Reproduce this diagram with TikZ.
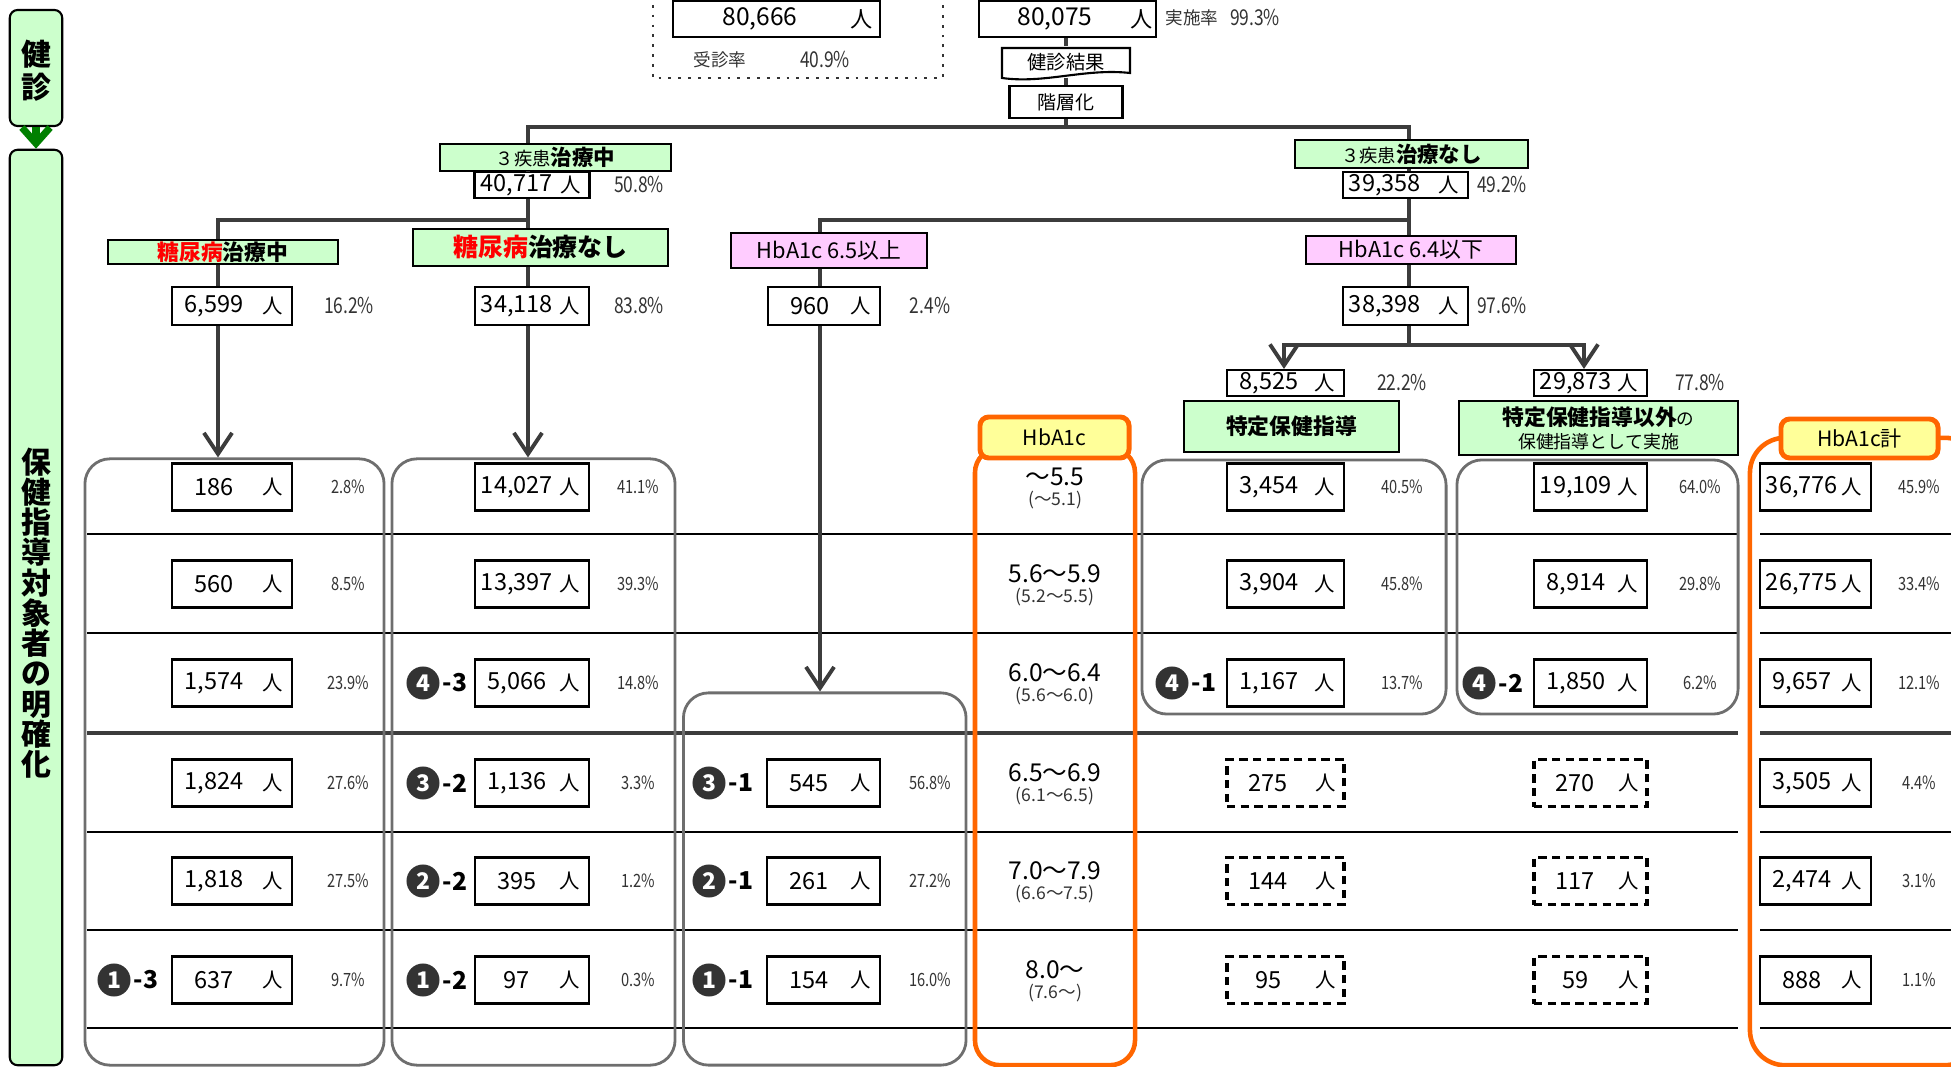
\documentclass[tikz,border=0pt]{standalone}
\usepackage{fontspec}
\setmainfont{Noto Sans CJK JP}
\newfontfamily\narrowfont[FakeStretch=0.8]{Noto Sans CJK JP}
\usetikzlibrary{positioning,arrows.meta}
\definecolor{kgreen}{HTML}{CCFFCC}
\definecolor{kdgreen}{HTML}{008000}
\definecolor{kpink}{HTML}{FFCCFF}
\definecolor{kyellow}{HTML}{FFFF99}
\definecolor{korange}{HTML}{FF6600}
\definecolor{kline}{HTML}{3C3C3C}
\definecolor{kgray}{HTML}{6E6E6E}
\definecolor{kpct}{HTML}{333333}
\newcommand\fsz[1]{\fontsize{#1}{#1}\selectfont}
\newcommand\ninzu[5]{%
  \node[#5] (#1) at (#2,#3) {};
  \node[numtxt] (#1n) at ([xshift=0.43cm]#1.west) {#4};
  \node[hito] (#1h) at ([xshift=-0.2cm]#1.east) {人};}
\newcommand\maru[5]{%
  \node[marunode] (#1) at (#2,#3) {#4};
  \node[marusub,right=0.5pt of #1] (#1s) {-#5};}

\begin{document}
\begin{tikzpicture}
  [x=0.01cm,y=-0.01cm,
   tree/.style={draw=kline,line width=1.1pt},
   arr/.style={tree,-{Straight Barb[length=6pt,width=8pt]}},
   garr/.style={draw=kdgreen,line width=2pt,-{Straight Barb[length=4.5pt,width=8pt]}},
   grp/.style={draw=kgray,line width=0.8pt,rounded corners=0.25cm,inner sep=0pt},
   ocol/.style={draw=korange,line width=1.3pt,inner sep=0pt},
   numbox/.style={draw,line width=0.6pt,fill=white,minimum width=1.15cm,minimum height=0.47cm,inner sep=0pt},
   dashbox/.style={numbox,dash pattern=on 2.4pt off 1.5pt,line width=0.9pt},
   topbox/.style={numbox,minimum height=0.26cm},
   midbox/.style={numbox,minimum height=0.38cm},
   numtxt/.style={inner sep=0pt,font=\fsz{6.7}},
   hito/.style={inner sep=0pt,font=\fsz{5.8}},
   pct/.style={inner sep=0pt,text=kpct,font=\narrowfont\fsz{5.2}},
   bigpct/.style={inner sep=0pt,text=kpct,font=\narrowfont\fsz{6.2}},
   small/.style={inner sep=0pt,text=kpct,font=\fsz{5}},
   gbox/.style={draw,line width=0.6pt,fill=kgreen,inner sep=0pt},
   pbox/.style={gbox,fill=kpink,font=\fsz{6.2}},
   hlab/.style={draw=korange,line width=1.4pt,fill=kyellow,rounded corners=2.5pt,inner sep=0pt,font=\fsz{6}},
   rng/.style={inner sep=0pt,font=\fsz{7}},
   rngsub/.style={inner sep=0pt,text=kpct,font=\fsz{5}},
   marunode/.style={circle,fill=black!80,text=white,inner sep=0pt,minimum size=0.33cm,font=\bfseries\fsz{6.5}},
   marusub/.style={inner sep=0pt,font=\bfseries\fsz{7}},
   side/.style={draw,line width=0.6pt,fill=kgreen,rounded corners=0.08cm,minimum width=0.525cm,inner sep=0pt},
   sidetxt/.style={inner sep=0pt,align=center}]
  \useasboundingbox (0,0) rectangle (1951,1067);

  % side bar
  \node[side,minimum height=1.16cm] (kenshin) at (36,68) {};
  \node[sidetxt,font=\bfseries\fontsize{8.5}{9.4}\selectfont] (kenshintxt) at (36,71) {健\\診};
  \node[side,minimum height=9.15cm] (hoken) at (36,607.5) {};
  \node[sidetxt,font=\bfseries\fontsize{8.5}{8.6}\selectfont] (hokentxt) at (36,613)
    {保\\健\\指\\導\\対\\象\\者\\の\\明\\確\\化};
  \draw[garr] (kenshin) -- (hoken);

  % table lines
  \foreach \y in {534,633,832,930,1028}
    \draw[line width=0.5pt] (87,\y) -- (1738,\y) (1760,\y) -- (1951,\y);
  \draw[kline,line width=1.1pt] (87,733) -- (1738,733) (1760,733) -- (1951,733);

  % groups
  \node[grp,minimum width=2.99cm,minimum height=6.06cm] (g1) at (234.5,762) {};
  \node[grp,minimum width=2.83cm,minimum height=6.06cm] (g2) at (533.5,762) {};
  \node[grp,minimum width=2.825cm,minimum height=3.72cm] (g3) at (824.75,879) {};
  \node[grp,minimum width=3.04cm,minimum height=2.54cm] (g4) at (1294,587) {};
  \node[grp,minimum width=2.81cm,minimum height=2.54cm] (g5) at (1597.5,587) {};
  \node[ocol,rounded corners=0.25cm,minimum width=1.6cm,minimum height=6.17cm] (ca) at (1055,756.5) {};
  \node[ocol,rounded corners=0.35cm,minimum width=2.3cm,minimum height=6.27cm] (cb) at (1865,751.5) {};
  \node[hlab,minimum width=1.49cm,minimum height=0.41cm] (la) at (1054.5,437.5) {HbA1c};
  \node[hlab,minimum width=1.57cm,minimum height=0.39cm] (lb) at (1859.5,438.5) {HbA1c計};

  % top
  \draw[kpct,dotted,line width=0.8pt] (653,-5) rectangle (943,78);
  \node[numbox,minimum width=2.07cm,minimum height=0.36cm] (v1) at (776.5,19) {};
  \node[numtxt,font=\fsz{7}] (v1n) at (760,19) {80,666};
  \node[hito,font=\fsz{6.3}] (v1h) at (862,19) {人};
  \node[small] (v1l) at (720,60) {受診率};
  \node[bigpct] (v1p) at (825,60) {40.9\%};
  \node[numbox,minimum width=1.77cm,minimum height=0.36cm] (v2) at (1067.5,19) {};
  \node[numtxt,font=\fsz{7}] (v2n) at (1055,19) {80,075};
  \node[hito,font=\fsz{6.3}] (v2h) at (1142,19) {人};
  \node[small] (v2l) at (1192,18) {実施率};
  \node[bigpct] (v2p) at (1255,18) {99.3\%};
  \draw[line width=0.6pt,fill=white] (1002,48) -- (1130,48) -- (1130,73)
    .. controls (1085,68) and (1045,84) .. (1002,78) -- cycle;
  \node[inner sep=0pt,minimum width=1.28cm,minimum height=0.3cm,font=\fsz{5.5}] (kekka) at (1066,62) {健診結果};
  \node[draw,line width=0.6pt,minimum width=1.13cm,minimum height=0.32cm,inner sep=0pt,font=\fsz{5.4}] (kaiso) at (1066,102) {階層化};

  % tree
  \node[gbox,minimum width=2.31cm,minimum height=0.27cm] (ch1) at (555.5,157.5)
    {{\fsz{5.2}３疾患}{\bfseries\fsz{6.1}治療中}};
  \node[gbox,minimum width=2.33cm,minimum height=0.28cm] (ch2) at (1411.5,154)
    {{\fsz{5.2}３疾患}{\bfseries\fsz{6.1}治療なし}};
  \ninzu{n1}{532}{185}{40,717}{topbox}
  \node[bigpct] (n1p) at (639,185) {50.8\%};
  \ninzu{n2}{1405.5}{185}{39,358}{topbox,minimum width=1.25cm}
  \node[bigpct] (n2p) at (1502,185) {49.2\%};
  \node[gbox,minimum width=2.3cm,minimum height=0.24cm,font=\bfseries\fsz{6.2}] (dm1) at (223,252)
    {\textcolor{red}{糖尿病}治療中};
  \node[gbox,minimum width=2.55cm,minimum height=0.37cm,font=\bfseries\fsz{7.1}] (dm2) at (540.5,247.5)
    {\textcolor{red}{糖尿病}治療なし};
  \node[pbox,minimum width=1.96cm,minimum height=0.35cm] (hb1) at (829,250.5) {HbA1c 6.5以上};
  \node[pbox,minimum width=2.1cm,minimum height=0.28cm] (hb2) at (1411,250) {HbA1c 6.4以下};
  \ninzu{m1}{232}{306}{6,599}{midbox,minimum width=1.2cm}
  \node[bigpct] (m1p) at (349,306) {16.2\%};
  \ninzu{m2}{532}{306}{34,118}{midbox,minimum width=1.14cm}
  \node[bigpct] (m2p) at (639,306) {83.8\%};
  \ninzu{m3}{824}{306}{960}{midbox,minimum width=1.12cm}
  \node[bigpct] (m3p) at (930,306) {2.4\%};
  \ninzu{m4}{1405.5}{306}{38,398}{midbox,minimum width=1.25cm}
  \node[bigpct] (m4p) at (1502,306) {97.6\%};
  \ninzu{s1}{1285.5}{383}{8,525}{topbox,minimum width=1.17cm}
  \node[bigpct] (s1p) at (1402,383) {22.2\%};
  \ninzu{s2}{1590.5}{383}{29,873}{topbox,minimum width=1.13cm}
  \node[bigpct] (s2p) at (1700,383) {77.8\%};
  \node[gbox,minimum width=2.15cm,minimum height=0.51cm,font=\bfseries\fsz{6.2}] (tk1) at (1291.5,426.5) {特定保健指導};
  \node[gbox,minimum width=2.79cm,minimum height=0.54cm,align=center,font=\fontsize{6}{6.6}\selectfont] (tk2) at (1598.5,428)
    {{\bfseries\fsz{6.2}特定保健指導以外}{\fsz{5}の}\\{\fsz{5.1}保健指導として実施}};

  \coordinate (ta) at (528,127);
  \coordinate (td) at (1409,127);
  \coordinate (ka) at (218,220);
  \coordinate (kb) at (528,220);
  \coordinate (kc) at (820,220);
  \coordinate (kd) at (1409,220);
  \coordinate (ke) at (1284,345);
  \coordinate (kf) at (1584,345);
  \coordinate (kg) at (1409,345);

  \draw[tree] (v2.south -| kekka) -- (kekka.north);
  \draw[tree] (kekka) -- (kaiso);
  \draw[tree] (kaiso) -- (kaiso |- ta);
  \draw[tree] (ta |- ch1.north) -- (ta) -- (td) -- (td |- ch2.north);
  \draw[tree] (ta |- ch1.south) -- (ta |- n1.north);
  \draw[tree] (td |- ch2.south) -- (td |- n2.north);
  \draw[tree] (ta |- n1.south) -- (kb) -- (ka) -- (ka |- dm1.north);
  \draw[tree] (kb) -- (kb |- dm2.north);
  \draw[tree] (ka |- dm1.south) -- (ka |- m1.north);
  \draw[tree] (kb |- dm2.south) -- (kb |- m2.north);
  \draw[arr] (ka |- m1.south) -- (ka |- g1.north);
  \draw[arr] (kb |- m2.south) -- (kb |- g2.north);
  \draw[tree] (td |- n2.south) -- (kd) -- (kc) -- (kc |- hb1.north);
  \draw[tree] (kd) -- (kd |- hb2.north);
  \draw[tree] (kc |- hb1.south) -- (kc |- m3.north);
  \draw[tree] (kd |- hb2.south) -- (kd |- m4.north);
  \draw[arr] (kc |- m3.south) -- (kc |- g3.north);
  \draw[tree] (kd |- m4.south) -- (kg);
  \draw[arr] (kg) -- (ke) -- (ke |- s1.north);
  \draw[arr] (kg) -- (kf) -- (kf |- s2.north);

  % rows: 糖尿病治療中
  \foreach \y/\n/\p [count=\i] in {487/186/2.8, 584/560/8.5, 683/{1,574}/23.9,
      783/{1,824}/27.6, 881/{1,818}/27.5, 980/637/9.7}{
    \ninzu{a\i}{232}{\y}{\n}{numbox,minimum width=1.2cm}
    \node[pct] (ap\i) at (348,\y) {\p\%};}
  % 糖尿病治療なし
  \foreach \y/\n/\p [count=\i] in {487/{14,027}/41.1, 584/{13,397}/39.3, 683/{5,066}/14.8,
      783/{1,136}/3.3, 881/395/1.2, 980/97/0.3}{
    \ninzu{b\i}{532}{\y}{\n}{numbox,minimum width=1.14cm}
    \node[pct] (bp\i) at (638,\y) {\p\%};}
  % HbA1c 6.5以上
  \foreach \y/\n/\p [count=\i] in {783/545/56.8, 881/261/27.2, 980/154/16.0}{
    \ninzu{c\i}{823.5}{\y}{\n}{numbox,minimum width=1.13cm}
    \node[pct] (cp\i) at (930,\y) {\p\%};}
  % 特定保健指導
  \foreach \y/\n/\p [count=\i] in {487/{3,454}/40.5, 584/{3,904}/45.8, 683/{1,167}/13.7}{
    \ninzu{d\i}{1285.5}{\y}{\n}{numbox,minimum width=1.17cm}
    \node[pct] (dp\i) at (1402,\y) {\p\%};}
  \foreach \y/\n [count=\i] in {783/275, 881/144, 980/95}{
    \ninzu{dd\i}{1285.5}{\y}{\n}{dashbox,minimum width=1.17cm}}
  % 特定保健指導以外
  \foreach \y/\n/\p [count=\i] in {487/{19,109}/64.0, 584/{8,914}/29.8, 683/{1,850}/6.2}{
    \ninzu{e\i}{1590.5}{\y}{\n}{numbox,minimum width=1.13cm}
    \node[pct] (ep\i) at (1700,\y) {\p\%};}
  \foreach \y/\n [count=\i] in {783/270, 881/117, 980/59}{
    \ninzu{ee\i}{1590.5}{\y}{\n}{dashbox,minimum width=1.13cm}}
  % HbA1c計
  \foreach \y/\n/\p [count=\i] in {487/{36,776}/45.9, 584/{26,775}/33.4, 683/{9,657}/12.1,
      783/{3,505}/4.4, 881/{2,474}/3.1, 980/888/1.1}{
    \ninzu{f\i}{1815.5}{\y}{\n}{numbox,minimum width=1.11cm}
    \node[pct] (fp\i) at (1919.5,\y) {\p\%};}
  % HbA1c ranges
  \foreach \y/\a/\b [count=\i] in {487/〜5.5/(〜5.1), 584/5.6〜5.9/(5.2〜5.5), 683/6.0〜6.4/(5.6〜6.0),
      783/6.5〜6.9/(6.1〜6.5), 881/7.0〜7.9/(6.6〜7.5), 980/8.0〜/(7.6〜)}{
    \node[rng] (r\i) at (1055,\y-10) {\a};
    \node[rngsub] (rs\i) at (1055,\y+13) {\b};}

  % markers
  \maru{k13}{114}{980}{1}{3}
  \maru{k43}{423}{683}{4}{3}
  \maru{k32}{423}{783}{3}{2}
  \maru{k22}{423}{881}{2}{2}
  \maru{k12}{423}{980}{1}{2}
  \maru{k31}{709}{783}{3}{1}
  \maru{k21}{709}{881}{2}{1}
  \maru{k11}{709}{980}{1}{1}
  \maru{k41}{1172}{683}{4}{1}
  \maru{k42}{1479}{683}{4}{2}
\end{tikzpicture}
\end{document}
